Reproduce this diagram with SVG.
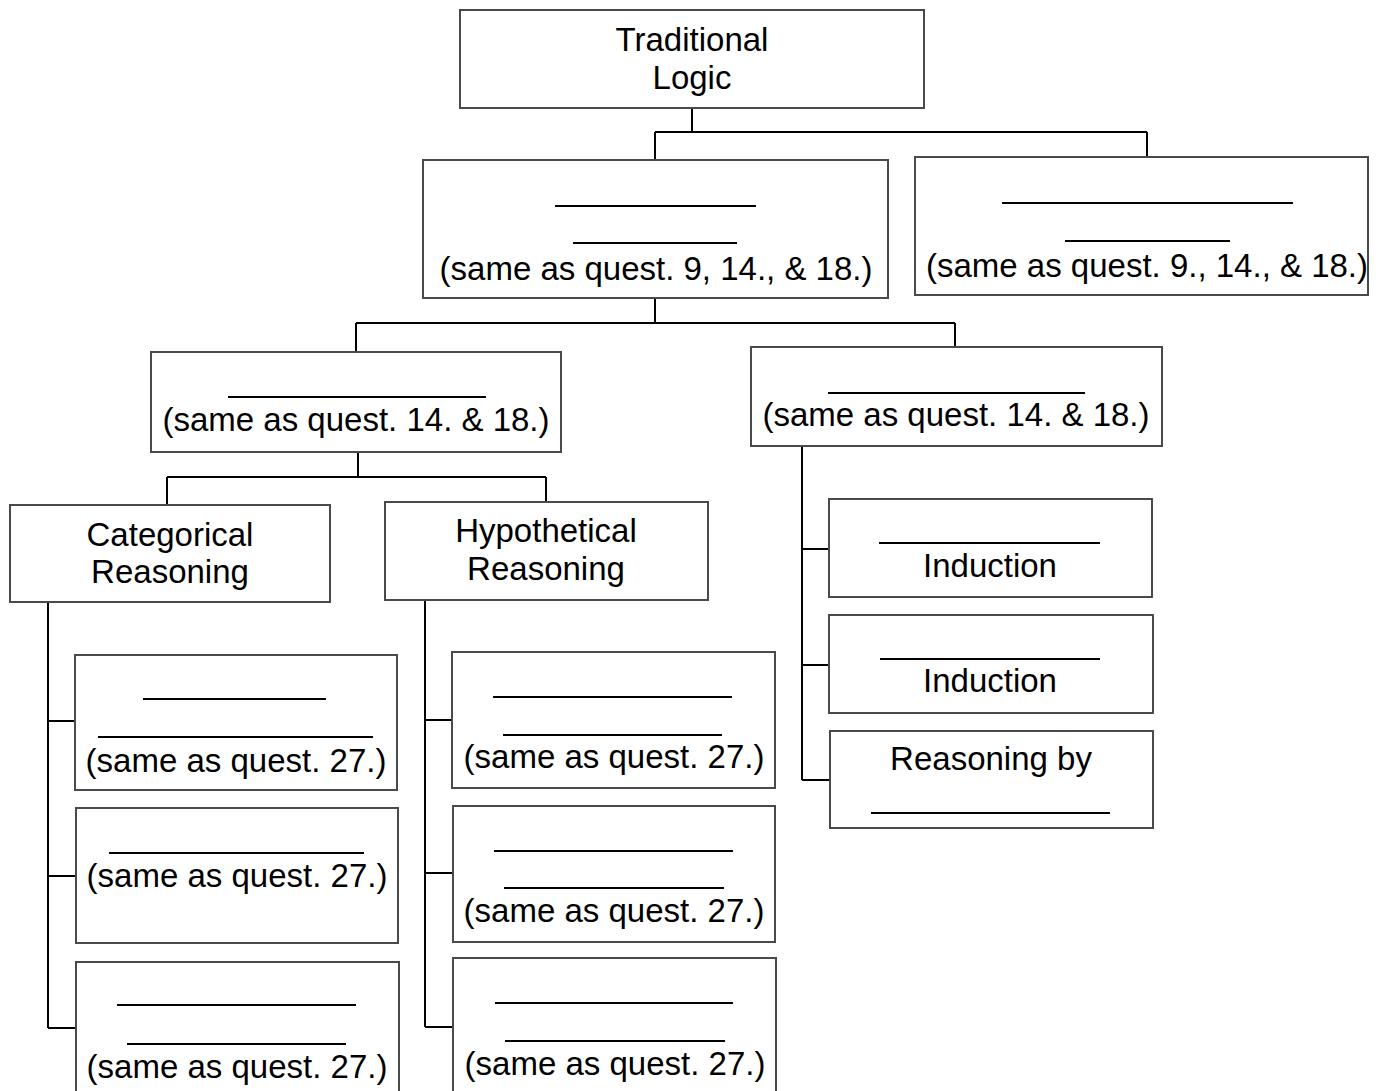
<svg xmlns="http://www.w3.org/2000/svg" width="1388" height="1091" viewBox="0 0 1388 1091">
  <style>
    .box { fill: #ffffff; stroke: #4a4a4a; stroke-width: 2; }
    .blank { stroke: #000000; stroke-width: 2; }
    .wire { fill: none; stroke: #000000; stroke-width: 2; }
    text { font-family: "Liberation Sans", Arial, sans-serif; font-size: 33px; fill: #000000; text-anchor: middle; }
  </style>
  <rect width="1388" height="1091" fill="#ffffff"/>

  <!-- connectors -->
  <g id="connectors">
    <path class="wire" d="M692,108 V132 M655,132 H1147 M655,132 V160 M1147,132 V157"/>
    <path class="wire" d="M655,298 V323 M356,323 H955 M356,323 V352 M955,323 V347"/>
    <path class="wire" d="M358,452 V477 M167,477 H546 M167,477 V505 M546,477 V502"/>
    <path class="wire" d="M48,602 V1028 M48,721 H75 M48,876 H76 M48,1028 H76"/>
    <path class="wire" d="M425,600 V1027 M425,720 H452 M425,873 H453 M425,1027 H453"/>
    <path class="wire" d="M802,446 V780 M802,549 H829 M802,665 H829 M802,780 H830"/>
  </g>

  <!-- root -->
  <g id="traditional-logic">
    <rect class="box" x="460" y="10" width="464" height="98"/>
    <text x="692" y="51">Traditional</text>
    <text x="692" y="89">Logic</text>
  </g>

  <!-- second level -->
  <g id="branch-left">
    <rect class="box" x="423" y="160" width="465" height="138"/>
    <line class="blank" x1="555" y1="206" x2="756" y2="206"/>
    <line class="blank" x1="573" y1="243" x2="737" y2="243"/>
    <text x="656" y="280">(same as quest. 9, 14., &amp; 18.)</text>
  </g>
  <g id="branch-right">
    <rect class="box" x="915" y="157" width="453" height="138"/>
    <line class="blank" x1="1002" y1="203" x2="1293" y2="203"/>
    <line class="blank" x1="1065" y1="241" x2="1230" y2="241"/>
    <text x="1147" y="277">(same as quest. 9., 14., &amp; 18.)</text>
  </g>

  <!-- third level -->
  <g id="deduction">
    <rect class="box" x="151" y="352" width="410" height="100"/>
    <line class="blank" x1="228" y1="397" x2="486" y2="397"/>
    <text x="356" y="431">(same as quest. 14. &amp; 18.)</text>
  </g>
  <g id="induction">
    <rect class="box" x="751" y="347" width="411" height="99"/>
    <line class="blank" x1="828" y1="393" x2="1085" y2="393"/>
    <text x="956" y="426">(same as quest. 14. &amp; 18.)</text>
  </g>

  <!-- fourth level -->
  <g id="categorical">
    <rect class="box" x="10" y="505" width="320" height="97"/>
    <text x="170" y="546">Categorical</text>
    <text x="170" y="583">Reasoning</text>
  </g>
  <g id="hypothetical">
    <rect class="box" x="385" y="502" width="323" height="98"/>
    <text x="546" y="542">Hypothetical</text>
    <text x="546" y="580">Reasoning</text>
  </g>

  <!-- categorical children -->
  <g id="categorical-1">
    <rect class="box" x="75" y="655" width="322" height="135"/>
    <line class="blank" x1="143" y1="699" x2="326" y2="699"/>
    <line class="blank" x1="98" y1="737" x2="373" y2="737"/>
    <text x="236" y="772">(same as quest. 27.)</text>
  </g>
  <g id="categorical-2">
    <rect class="box" x="76" y="808" width="322" height="135"/>
    <line class="blank" x1="109" y1="853" x2="364" y2="853"/>
    <text x="237" y="887">(same as quest. 27.)</text>
  </g>
  <g id="categorical-3">
    <rect class="box" x="76" y="962" width="323" height="140"/>
    <line class="blank" x1="117" y1="1005" x2="356" y2="1005"/>
    <line class="blank" x1="127" y1="1044" x2="346" y2="1044"/>
    <text x="237" y="1078">(same as quest. 27.)</text>
  </g>

  <!-- hypothetical children -->
  <g id="hypothetical-1">
    <rect class="box" x="452" y="652" width="323" height="136"/>
    <line class="blank" x1="493" y1="697" x2="732" y2="697"/>
    <line class="blank" x1="503" y1="735" x2="722" y2="735"/>
    <text x="614" y="768">(same as quest. 27.)</text>
  </g>
  <g id="hypothetical-2">
    <rect class="box" x="453" y="806" width="322" height="136"/>
    <line class="blank" x1="494" y1="851" x2="733" y2="851"/>
    <line class="blank" x1="504" y1="888" x2="724" y2="888"/>
    <text x="614" y="922">(same as quest. 27.)</text>
  </g>
  <g id="hypothetical-3">
    <rect class="box" x="453" y="958" width="323" height="140"/>
    <line class="blank" x1="495" y1="1003" x2="733" y2="1003"/>
    <line class="blank" x1="505" y1="1041" x2="725" y2="1041"/>
    <text x="615" y="1075">(same as quest. 27.)</text>
  </g>

  <!-- induction children -->
  <g id="induction-1">
    <rect class="box" x="829" y="499" width="323" height="98"/>
    <line class="blank" x1="879" y1="543" x2="1100" y2="543"/>
    <text x="990" y="577">Induction</text>
  </g>
  <g id="induction-2">
    <rect class="box" x="829" y="615" width="324" height="98"/>
    <line class="blank" x1="880" y1="659" x2="1100" y2="659"/>
    <text x="990" y="692">Induction</text>
  </g>
  <g id="induction-3">
    <rect class="box" x="830" y="731" width="323" height="97"/>
    <text x="991" y="770">Reasoning by</text>
    <line class="blank" x1="871" y1="813" x2="1110" y2="813"/>
  </g>
</svg>
